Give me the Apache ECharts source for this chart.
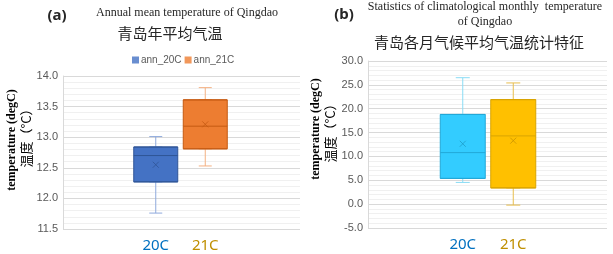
<!DOCTYPE html>
<html>
<head>
<meta charset="utf-8">
<script src="https://cdn.jsdelivr.net/npm/echarts@6/dist/echarts.min.js"></script>
<style>
  html, body { margin: 0; padding: 0; background: #fff; }
  #chart { width: 613px; height: 254px; }
</style>
</head>
<body>
<div id="chart"></div>
<script>
// categories
var cats = ['20C', '21C'];
// (a) annual mean: [min, Q1, median, Q3, max]
var annBox = [
    [11.76, 12.27, 12.70, 12.84, 13.01],
    [12.53, 12.81, 13.18, 13.61, 13.81]
];
var annMean = [12.55, 13.21];
// (b) monthly climatology
var monBox = [
    [4.55, 5.40, 10.8, 18.8, 26.5],
    [-0.2, 3.4, 14.3, 21.9, 25.4]
];
var monMean = [12.65, 13.3];

var fill20a = '#4472C4', fill21a = '#ED7D31';
var fill20b = '#33CCFF', fill21b = '#FFC000';
var labelColors = ['#0070C0', '#BF8F00'];

// whisker layer (light lines, narrow caps) + box layer (Q1..Q3 only) drawn over it
function whiskerData(box, colors, light) {
    return box.map(function (d, i) {
        return { value: d, itemStyle: { color: colors[i], borderColor: light[i] } };
    });
}
function boxData(box, colors, dark) {
    return box.map(function (d, i) {
        return { value: [d[1], d[1], d[2], d[3], d[3]], itemStyle: { color: colors[i], borderColor: dark[i] } };
    });
}

var xMark = 'path://M0,0L10,10M10,0L0,10';

function yFrame(idx, min, max, step) {
    return {
        gridIndex: idx, type: 'value', min: min, max: max, interval: step,
        axisLine: { show: true, lineStyle: { color: '#d9d9d9' } },
        axisTick: { show: false },
        axisLabel: { color: '#595959', fontSize: 11, fontFamily: 'Liberation Sans', margin: 5,
            formatter: function (v) { return v.toFixed(1); } },
        splitLine: { lineStyle: { color: '#d9d9d9' } },
        minorTick: { show: false, splitNumber: 5 },
        minorSplitLine: { show: true, lineStyle: { color: '#f0f0f0' } }
    };
}
function yHidden(idx, min, max) {
    return { gridIndex: idx, type: 'value', min: min, max: max, show: false, splitLine: { show: false } };
}
function xBoxes(idx) {
    return {
        gridIndex: idx, type: 'category', data: cats,
        axisLine: { show: false }, axisTick: { show: false }, splitLine: { show: false },
        axisLabel: { fontSize: 15, margin: 9, fontFamily: 'Noto Sans',
            color: function (v, i) { return labelColors[i]; } }
    };
}
function xWhisk(idx) {
    return { gridIndex: idx, type: 'category', data: cats, show: false, splitLine: { show: false } };
}

var myChart = echarts.init(document.getElementById('chart'));

var option = {
    backgroundColor: '#fff',
    animation: false,
    grid: [
        { left: 63, right: 313, top: 76, bottom: 25 },
        { left: 131, width: 99, top: 76, bottom: 25 },
        { left: 368, right: 6, top: 61, bottom: 26 },
        { left: 437.5, width: 101, top: 61, bottom: 26 }
    ],
    xAxis: [
        { gridIndex: 0, type: 'value', show: false },
        xBoxes(1),
        { gridIndex: 2, type: 'value', show: false },
        xBoxes(3),
        xWhisk(1),
        xWhisk(3)
    ],
    yAxis: [
        yFrame(0, 11.5, 14, 0.5),
        yHidden(1, 11.5, 14),
        yFrame(2, -5, 30, 5),
        yHidden(3, -5, 30)
    ],
    legend: {
        left: 127, top: 50, itemWidth: 7, itemHeight: 7, itemGap: 3,
        textStyle: { fontSize: 10, color: '#595959', fontFamily: 'Liberation Sans', padding: [0, 0, 0, -3] },
        data: [
            { name: 'ann_20C', icon: 'rect', itemStyle: { color: fill20a, borderWidth: 0 } },
            { name: 'ann_21C', icon: 'rect', itemStyle: { color: fill21a, borderWidth: 0 } }
        ]
    },
    series: [
        { type: 'boxplot', xAxisIndex: 4, yAxisIndex: 1, boxWidth: [13, 13],
          itemStyle: { borderWidth: 1 },
          data: whiskerData(annBox, [fill20a, fill21a], ['#8FAADC', '#F4B183']) },
        { type: 'boxplot', xAxisIndex: 1, yAxisIndex: 1, boxWidth: [44, 44],
          itemStyle: { borderWidth: 1 },
          data: boxData(annBox, [fill20a, fill21a], ['#2F5597', '#C55A11']) },
        { name: 'ann_20C', type: 'scatter', xAxisIndex: 1, yAxisIndex: 1, symbol: xMark, symbolSize: 6,
          itemStyle: { color: 'none', borderColor: '#2F5597', borderWidth: 1 },
          data: [[0, annMean[0]]] },
        { name: 'ann_21C', type: 'scatter', xAxisIndex: 1, yAxisIndex: 1, symbol: xMark, symbolSize: 6,
          itemStyle: { color: 'none', borderColor: '#C55A11', borderWidth: 1 },
          data: [[1, annMean[1]]] },

        { type: 'boxplot', xAxisIndex: 5, yAxisIndex: 3, boxWidth: [14, 14],
          itemStyle: { borderWidth: 1 },
          data: whiskerData(monBox, [fill20b, fill21b], ['#8ADCF5', '#E8BE4E']) },
        { type: 'boxplot', xAxisIndex: 3, yAxisIndex: 3, boxWidth: [45, 45],
          itemStyle: { borderWidth: 1 },
          data: boxData(monBox, [fill20b, fill21b], ['#22A8D8', '#D9A400']) },
        { name: 'mon_20C', type: 'scatter', xAxisIndex: 3, yAxisIndex: 3, symbol: xMark, symbolSize: 6,
          itemStyle: { color: 'none', borderColor: '#1E9CC8', borderWidth: 1 },
          data: [[0, monMean[0]]] },
        { name: 'mon_21C', type: 'scatter', xAxisIndex: 3, yAxisIndex: 3, symbol: xMark, symbolSize: 6,
          itemStyle: { color: 'none', borderColor: '#C99400', borderWidth: 1 },
          data: [[1, monMean[1]]] }
    ],
    graphic: [
        // panel (a)
        { type: 'text', x: 57, y: 16, style: { text: '(a)', fill: '#262626', align: 'center', verticalAlign: 'middle',
            font: 'bold 15px "Noto Sans"' } },
        { type: 'text', x: 187, y: 13, style: { text: 'Annual mean temperature of Qingdao', fill: '#262626',
            align: 'center', verticalAlign: 'middle', font: '12px "Liberation Serif"' } },
        { type: 'text', x: 170, y: 33, style: { text: '青岛年平均气温', fill: '#262626',
            align: 'center', verticalAlign: 'middle', font: '15px "Noto Sans CJK SC"' } },
        { type: 'text', x: 12, y: 140, rotation: Math.PI / 2, style: { text: 'temperature (degC)', fill: '#000',
            align: 'center', verticalAlign: 'middle', font: 'bold 12px "Liberation Serif"' } },
        { type: 'text', x: 26, y: 135, rotation: Math.PI / 2, style: { text: '温度（°C）', fill: '#000',
            align: 'center', verticalAlign: 'middle', font: '13px "Noto Sans CJK SC"' } },
        // panel (b)
        { type: 'text', x: 344, y: 15, style: { text: '(b)', fill: '#262626', align: 'center', verticalAlign: 'middle',
            font: 'bold 15px "Noto Sans"' } },
        { type: 'text', x: 485, y: 7, style: { text: 'Statistics of climatological monthly  temperature', fill: '#262626',
            align: 'center', verticalAlign: 'middle', font: '12px "Liberation Serif"' } },
        { type: 'text', x: 485, y: 22, style: { text: 'of Qingdao', fill: '#262626',
            align: 'center', verticalAlign: 'middle', font: '12px "Liberation Serif"' } },
        { type: 'text', x: 479, y: 42, style: { text: '青岛各月气候平均气温统计特征', fill: '#262626',
            align: 'center', verticalAlign: 'middle', font: '15px "Noto Sans CJK SC"' } },
        { type: 'text', x: 316, y: 129, rotation: Math.PI / 2, style: { text: 'temperature (degC)', fill: '#000',
            align: 'center', verticalAlign: 'middle', font: 'bold 12px "Liberation Serif"' } },
        { type: 'text', x: 330, y: 130, rotation: Math.PI / 2, style: { text: '温度（°C）', fill: '#000',
            align: 'center', verticalAlign: 'middle', font: '13px "Noto Sans CJK SC"' } }
    ]
};

myChart.setOption(option);
</script>
</body>
</html>
